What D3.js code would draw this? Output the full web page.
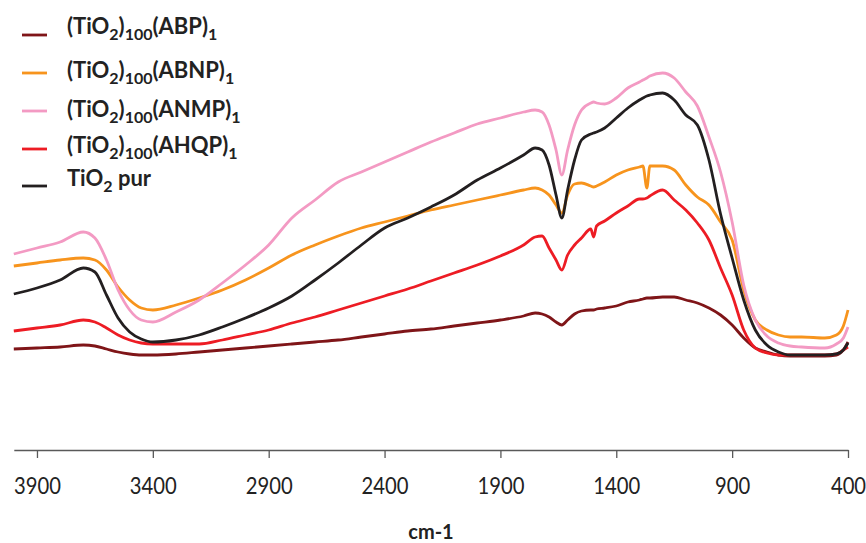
<!DOCTYPE html>
<html>
<head>
<meta charset="utf-8">
<script src="https://cdn.jsdelivr.net/npm/d3@7"></script>
<style>
  html, body { margin: 0; padding: 0; background: #fff; }
  svg { display: block; }
</style>
</head>
<body>
<div id="chart"></div>
<script>
// ---- data (wavenumber in cm-1, transmittance in arbitrary units) ----
const wavenumbers = [4000,3900,3800,3700,3650,3600,3550,3500,3450,3400,
  3300,3200,3100,3000,2900,2800,2700,2600,2500,2400,
  2300,2200,2100,2000,1900,1800,1750,1720,1690,1660,
  1635,1610,1580,1550,1510,1498,1485,1450,1400,1350,
  1300,1285,1268,1255,1200,1150,1100,1050,1000,950,
  900,850,800,750,700,650,600,500,450,420,400];

const seriesNames = ["(TiO2)100(ABP)1", "(TiO2)100(ABNP)1", "(TiO2)100(ANMP)1", "(TiO2)100(AHQP)1", "TiO2 pur"];

const abp = [25.25,25.5,25.75,26.25,26,25.25,24.5,24,23.75,23.75,
  24,24.5,25,25.5,26,26.5,27,27.5,28.25,29,
  29.75,30.25,31,31.75,32.5,33.5,34.25,34,33.25,32,
  31.25,32.5,34,34.75,35,35,35.25,35.5,36,37,
  37.5,37.75,38,38,38.25,38.25,37.5,36.75,35.5,33.75,
  31.25,28,25.5,24.5,23.75,23.5,23.5,23.5,23.75,25,27];

const abnp = [46,46.75,47.5,48,47.5,45,40.75,37.5,35.5,35,
  36.25,38,40,42.5,45.5,48.75,51.25,53.5,55.5,57,
  58.5,60,61.25,62.5,63.75,65,65.5,65,63.75,61.25,
  59.25,63.75,66.5,66.75,66,65.75,66,67,68.75,70,
  70.75,71,65.5,71,71,70,66.25,63.25,61.25,57,
  52.5,40,32.5,30,28.75,28.25,28.25,28,28.75,31,35];

const anmp = [49,50.5,52,54.5,53,47.5,40,35,32.5,32,
  34.5,37.5,41.75,46.25,51.25,58,62.5,67,69.5,72,
  74.5,77,79.25,81.5,83,84.5,85,84.5,81.25,75,
  68.75,75,81.25,85,86.75,87,86.75,86.5,88,90.5,
  92,92.5,93,93.5,94.25,93,89.5,86,78.25,69.5,
  57,41.25,32.5,28.5,26.75,26,25.75,25.5,26.5,28,30.75];

const ahqp = [29.75,30.5,31.25,32.5,32,30.5,28.75,27.5,26.75,26.5,
  26.5,26.5,27.5,28.75,30,31.75,33.25,35,36.75,38.5,
  40.25,42.25,44.25,46.25,48.5,51.25,53.25,53.5,50.5,47.5,
  45,48.75,51.25,53,55.25,53.25,56,57.25,59.25,61,
  62.75,62.75,63,63.5,65,62.5,60,56.75,52.5,45.5,
  38.75,30,25.5,24.25,23.75,23.75,23.75,23.75,24,25,25.75];

const tio2 = [39,40.5,42.5,45.5,44.5,38.75,33,29.5,27.75,27,
  27.5,28.75,30.75,33,35.5,38.5,42.5,46.75,51.25,55.5,
  58,60.75,63.75,67.5,70.5,73.75,75.5,75,71.25,63.75,
  58,65,72.5,77.5,79,79.25,79.5,80.5,83,85.5,
  87.5,88,88.5,88.75,89.25,87.5,83.75,81.25,72.5,59,
  48,37.5,30,26.25,24.5,23.75,23.75,23.75,24,25,26.75];

const xTicks = [3900,3400,2900,2400,1900,1400,900,400];
const xLabel = "cm-1";

// ---- layout ----
const W = 866, H = 543;
const colors = ["#7f1518", "#f7941d", "#f39ac3", "#ed1c24", "#231f20"];
const seriesValues = [abp, abnp, anmp, ahqp, tio2];
// legend parts: [text, isSub]
const legendParts = [
  [["(TiO",0],["2",1],[")",0],["100",1],["(ABP)",0],["1",1]],
  [["(TiO",0],["2",1],[")",0],["100",1],["(ABNP)",0],["1",1]],
  [["(TiO",0],["2",1],[")",0],["100",1],["(ANMP)",0],["1",1]],
  [["(TiO",0],["2",1],[")",0],["100",1],["(AHQP)",0],["1",1]],
  [["TiO",0],["2",1],[" pur",0]]
];
const legendLineY = [35, 73, 111, 149, 186];
const legendTextY = [34, 78, 117, 153, 186];

const svg = d3.select("#chart").append("svg")
  .attr("width", W).attr("height", H);

const x = d3.scaleLinear().domain([4000, 400]).range([13.8, 848]);
const y = d3.scaleLinear().domain([0, 100]).range([450, 50]);

// axis
const axisG = svg.append("g").attr("transform", "translate(0,450)");
const axis = d3.axisBottom(x).tickValues(xTicks).tickSize(8).tickSizeOuter(0).tickPadding(0)
  .tickFormat(d3.format("d"));
axisG.call(axis);
axisG.select(".domain").attr("stroke", "#595959").attr("stroke-width", 1.5);
axisG.selectAll(".tick line").attr("stroke", "#595959").attr("stroke-width", 1.3);
axisG.selectAll(".tick text")
  .attr("fill", "#222")
  .attr("y", 0).attr("dy", 0)
  .attr("transform", "translate(0,44) scale(0.88,1)")
  .style("font-family", "Lato, 'Open Sans', sans-serif")
  .style("font-size", "23px");

svg.append("text")
  .attr("x", 431).attr("y", 539)
  .attr("text-anchor", "middle")
  .style("font-family", "Lato, 'Open Sans', sans-serif")
  .style("font-weight", "bold")
  .style("font-size", "20px")
  .attr("fill", "#222")
  .text(xLabel);

// lines
const line = d3.line()
  .x((d, i) => x(wavenumbers[i]))
  .y(d => y(d))
  .curve(d3.curveMonotoneX);

seriesValues.forEach((vals, k) => {
  svg.append("path")
    .datum(vals)
    .attr("fill", "none")
    .attr("stroke", colors[k])
    .attr("stroke-width", 2.8)
    .attr("stroke-linejoin", "round")
    .attr("d", line);
});

// legend
legendParts.forEach((parts, k) => {
  svg.append("line")
    .attr("x1", 22).attr("x2", 47)
    .attr("y1", legendLineY[k]).attr("y2", legendLineY[k])
    .attr("stroke", colors[k]).attr("stroke-width", 2.8);
  const t = svg.append("text")
    .attr("x", 67).attr("y", legendTextY[k])
    .style("font-family", "Lato, 'Open Sans', sans-serif")
    .style("font-weight", "bold")
    .style("font-size", "22px")
    .attr("fill", "#222");
  let prevSub = 0;
  parts.forEach(([txt, sub]) => {
    const ts = t.append("tspan").text(txt);
    if (sub !== prevSub) ts.attr("dy", sub ? 6 : -6);
    if (sub) ts.style("font-size", "16px");
    prevSub = sub;
  });
});
</script>
</body>
</html>
